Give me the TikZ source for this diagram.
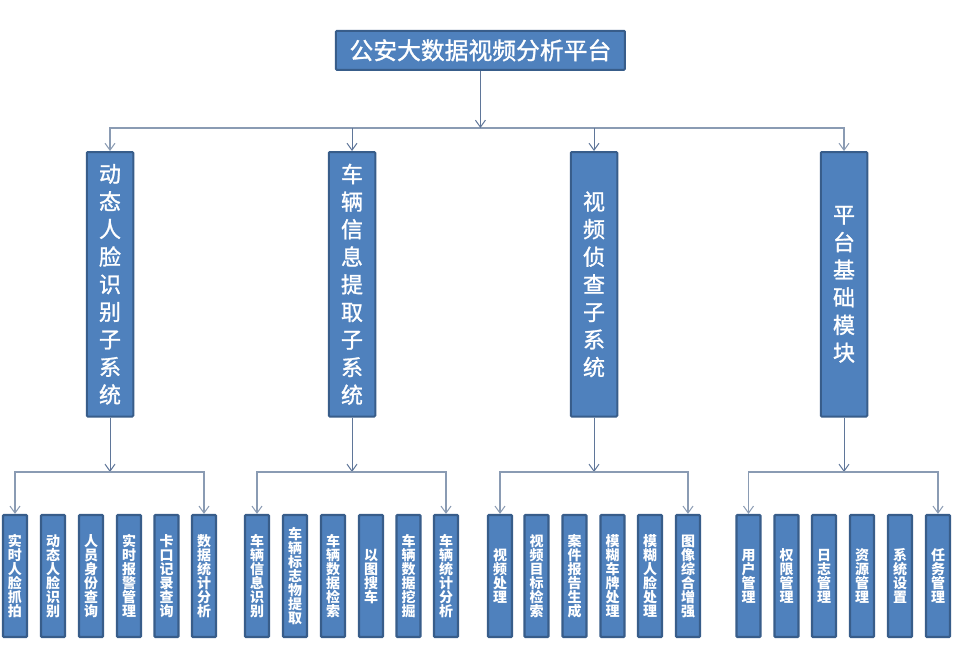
\documentclass[tikz,border=0pt]{standalone}
\usepackage{fontspec}
\newfontfamily\cjk{Noto Sans CJK SC}
\newfontfamily\cjkm[FakeBold=1.2]{Noto Sans CJK SC}
\usetikzlibrary{arrows.meta}
\definecolor{boxfill}{HTML}{4F81BD}
\definecolor{boxline}{HTML}{385D8A}
\definecolor{conn}{HTML}{8A9BB3}
\definecolor{conndark}{HTML}{5F7699}
\tikzset{
  box/.style={draw=boxline, line width=2pt, fill=boxfill, text=white, inner sep=0pt, align=center, rounded corners=1pt},
  titlebox/.style={box, minimum width=289, minimum height=39, font=\cjkm\fontsize{23.8}{23.8}\selectfont},
  subbox/.style={box, minimum width=46.5, minimum height=264.5, font=\cjkm\fontsize{22}{27.6}\selectfont},
  leafbox/.style={box, line width=2.2pt, minimum width=24, minimum height=122, font=\cjk\bfseries\fontsize{14}{14}\selectfont},
  tipv/.tip={Straight Barb[length=7pt,width=10pt,line width=1pt]},
  link/.style={draw=conndark, line width=1pt, -tipv},
  busline/.style={draw=conn, line width=1.6pt},
}
\begin{document}
\begin{tikzpicture}[x=1pt,y=-1pt]
\useasboundingbox[fill=white] (0,0) rectangle (955,651);
% top
\node[titlebox] (top) at (480.4,50.3) {公安大数据视频分析平台};
% level 2
\node[subbox] (s1) at (110,284.3) {动\\态\\人\\脸\\识\\别\\子\\系\\统};
\node[subbox] (s2) at (352,284.3) {车\\辆\\信\\息\\提\\取\\子\\系\\统};
\node[subbox] (s3) at (594,284.3) {视\\频\\侦\\查\\子\\系\\统};
\node[subbox] (s4) at (844,284.3) {平\\台\\基\\础\\模\\块};
\coordinate (bus) at (480,128);
\draw[busline, tipv-tipv] (s1.north) -- (s1.north |- bus) -- (s4.north |- bus) -- (s4.north);
\draw[link] (top) -- (top |- bus);
\draw[link] (s2.north |- bus) -- (s2.north);
\draw[link] (s3.north |- bus) -- (s3.north);
% group 1
\node[leafbox] (l11) at (15,576) {实\\时\\人\\脸\\抓\\拍};
\node[leafbox] (l12) at (53,576) {动\\态\\人\\脸\\识\\别};
\node[leafbox] (l13) at (91,576) {人\\员\\身\\份\\查\\询};
\node[leafbox] (l14) at (129,576) {实\\时\\报\\警\\管\\理};
\node[leafbox] (l15) at (166.5,576) {卡\\口\\记\\录\\查\\询};
\node[leafbox] (l16) at (204,576) {数\\据\\统\\计\\分\\析};
% group 2
\node[leafbox] (l21) at (257,576) {车\\辆\\信\\息\\识\\别};
\node[leafbox] (l22) at (295,576) {车\\辆\\标\\志\\物\\提\\取};
\node[leafbox] (l23) at (333,576) {车\\辆\\数\\据\\检\\索};
\node[leafbox] (l24) at (371,576) {以\\图\\搜\\车};
\node[leafbox] (l25) at (408.5,576) {车\\辆\\数\\据\\挖\\掘};
\node[leafbox] (l26) at (446,576) {车\\辆\\统\\计\\分\\析};
% group 3
\node[leafbox] (l31) at (500,576) {视\\频\\处\\理};
\node[leafbox] (l32) at (536.5,576) {视\\频\\目\\标\\检\\索};
\node[leafbox] (l33) at (574.5,576) {案\\件\\报\\告\\生\\成};
\node[leafbox] (l34) at (612.5,576) {模\\糊\\车\\牌\\处\\理};
\node[leafbox] (l35) at (650,576) {模\\糊\\人\\脸\\处\\理};
\node[leafbox] (l36) at (688,576) {图\\像\\综\\合\\增\\强};
% group 4
\node[leafbox] (l41) at (748.5,576) {用\\户\\管\\理};
\node[leafbox] (l42) at (786.5,576) {权\\限\\管\\理};
\node[leafbox] (l43) at (824,576) {日\\志\\管\\理};
\node[leafbox] (l44) at (862,576) {资\\源\\管\\理};
\node[leafbox] (l45) at (900,576) {系\\统\\设\\置};
\node[leafbox] (l46) at (938,576) {任\\务\\管\\理};
% level 3 buses
\foreach \g in {1,2,3,4}{
  \coordinate (g\g) at (0,472);
  \draw[link] (s\g) -- (s\g |- g\g);
  \draw[busline, tipv-tipv] (l\g1.north) -- (l\g1.north |- g\g) -- (l\g6.north |- g\g) -- (l\g6.north);
}
\end{tikzpicture}
\end{document}
